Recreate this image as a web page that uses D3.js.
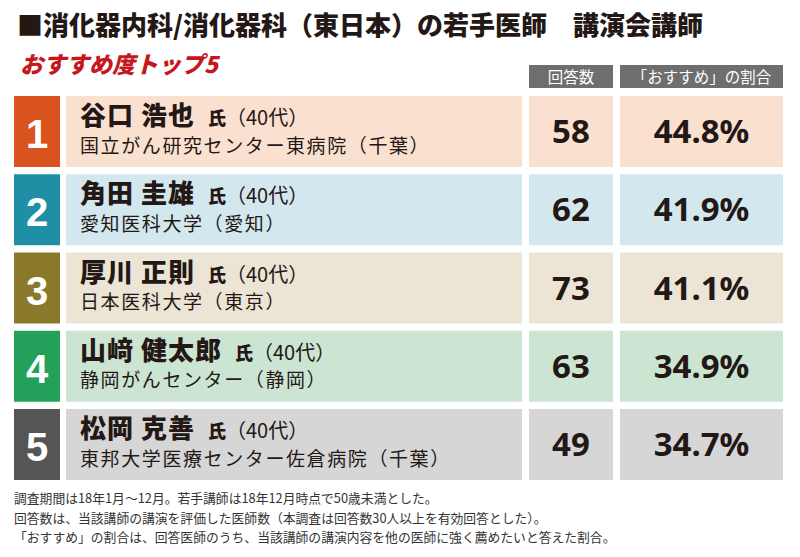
<!DOCTYPE html>
<html>
<head>
<meta charset="utf-8">
<script src="https://cdn.jsdelivr.net/npm/d3@7"></script>
<style>
  body { margin: 0; background: #fff; }
  text { font-family: "Noto Sans CJK JP", sans-serif; }
</style>
</head>
<body>
<script>
// data
let ranks = ["1", "2", "3", "4", "5"];
let names = ["谷口 浩也", "角田 圭雄", "厚川 正則", "山﨑 健太郎", "松岡 克善"];
let ages = ["（40代）", "（40代）", "（40代）", "（40代）", "（40代）"];
let affiliations = [
    "国立がん研究センター東病院（千葉）",
    "愛知医科大学（愛知）",
    "日本医科大学（東京）",
    "静岡がんセンター（静岡）",
    "東邦大学医療センター佐倉病院（千葉）"
];
let counts = [58, 62, 73, 63, 49];
let ratios = [44.8, 41.9, 41.1, 34.9, 34.7];
let headers = ["回答数", "「おすすめ」の割合"];
let notes = [
    "調査期間は18年1月～12月。若手講師は18年12月時点で50歳未満とした。",
    "回答数は、当該講師の講演を評価した医師数（本調査は回答数30人以上を有効回答とした）。",
    "「おすすめ」の割合は、回答医師のうち、当該講師の講演内容を他の医師に強く薦めたいと答えた割合。"
];

let width = 800, height = 557;

let svg = d3.select("body").append("svg")
    .attr("width", width)
    .attr("height", height);

// colours per rank
let rankColor = d3.scaleOrdinal(ranks, ["#d9531e", "#1f8fa5", "#8a792b", "#23a15b", "#555555"]);
let rowColor = d3.scaleOrdinal(ranks, ["#fae0cf", "#d2e7ee", "#ece4d4", "#cbe5d2", "#d6d6d6"]);

// rows
let y = d3.scaleBand().domain(ranks).range([96, 480]).paddingInner(0.093);

// columns: rank / name / count / ratio
let cols = {
    rank: [14, 60],
    name: [66, 522],
    count: [529, 613],
    ratio: [620, 783]
};

// title
svg.append("text")
    .attr("x", 17)
    .attr("y", 35)
    .style("font-size", "26px")
    .style("font-weight", 900)
    .attr("fill", "#231815")
    .text("■消化器内科/消化器科（東日本）の若手医師　講演会講師");

svg.append("text")
    .attr("transform", "translate(20,73) skewX(-14)")
    .style("font-size", "23px")
    .style("font-weight", 900)
    .attr("fill", "#c8161d")
    .text("おすすめ度トップ5");

// header boxes
let hdr = svg.append("g");
[cols.count, cols.ratio].forEach(function (c, i) {
    hdr.append("rect")
        .attr("x", c[0])
        .attr("y", 65)
        .attr("width", c[1] - c[0])
        .attr("height", 23)
        .attr("fill", "#6e6e6e");
    hdr.append("text")
        .attr("x", (c[0] + c[1]) / 2)
        .attr("y", 82.5)
        .attr("text-anchor", "middle")
        .style("font-size", "15.5px")
        .attr("fill", "#fff")
        .text(headers[i]);
});

let rows = svg.selectAll(".row")
    .data(ranks)
    .enter().append("g")
    .attr("class", "row")
    .attr("transform", function (d) { return "translate(0," + y(d) + ")"; });

rows.append("rect")
    .attr("x", cols.rank[0])
    .attr("width", cols.rank[1] - cols.rank[0])
    .attr("height", y.bandwidth())
    .attr("fill", function (d) { return rankColor(d); });

[cols.name, cols.count, cols.ratio].forEach(function (c) {
    rows.append("rect")
        .attr("x", c[0])
        .attr("width", c[1] - c[0])
        .attr("height", y.bandwidth())
        .attr("fill", function (d) { return rowColor(d); });
});

rows.append("text")
    .attr("x", (cols.rank[0] + cols.rank[1]) / 2)
    .attr("y", 52)
    .attr("text-anchor", "middle")
    .style("font-family", "'Liberation Sans', Arial, sans-serif")
    .style("font-size", "40px")
    .style("font-weight", 700)
    .attr("fill", "#fff")
    .text(function (d) { return d; });

let nameText = rows.append("text")
    .attr("x", 80)
    .attr("y", 29)
    .attr("fill", "#231815");

nameText.append("tspan")
    .style("font-size", "26px")
    .style("font-weight", 900)
    .style("letter-spacing", "1px")
    .text(function (d, i) { return names[i]; });

nameText.append("tspan")
    .attr("dx", 13)
    .style("font-size", "18px")
    .style("font-weight", 900)
    .text("氏");

nameText.append("tspan")
    .style("font-size", "20px")
    .text(function (d, i) { return ages[i]; });

rows.append("text")
    .attr("x", 80)
    .attr("y", 56.5)
    .style("font-size", "19px")
    .style("letter-spacing", "1.6px")
    .attr("fill", "#231815")
    .text(function (d, i) { return affiliations[i]; });

rows.append("text")
    .attr("x", (cols.count[0] + cols.count[1]) / 2)
    .attr("y", 47)
    .attr("text-anchor", "middle")
    .style("font-family", "'Noto Sans', sans-serif")
    .style("font-size", "33px")
    .style("font-weight", 700)
    .attr("fill", "#231815")
    .text(function (d, i) { return counts[i]; });

rows.append("text")
    .attr("x", (cols.ratio[0] + cols.ratio[1]) / 2)
    .attr("y", 47)
    .attr("text-anchor", "middle")
    .style("font-family", "'Noto Sans', sans-serif")
    .style("font-size", "33px")
    .style("font-weight", 700)
    .attr("fill", "#231815")
    .text(function (d, i) { return d3.format(".1f")(ratios[i]) + "%"; });

// footnotes
svg.selectAll(".note")
    .data(notes)
    .enter().append("text")
    .attr("class", "note")
    .attr("x", 14)
    .attr("y", function (d, i) { return 503 + i * 19.5; })
    .style("font-size", "12.8px")
    .attr("fill", "#333")
    .text(function (d) { return d; });
</script>
</body>
</html>
